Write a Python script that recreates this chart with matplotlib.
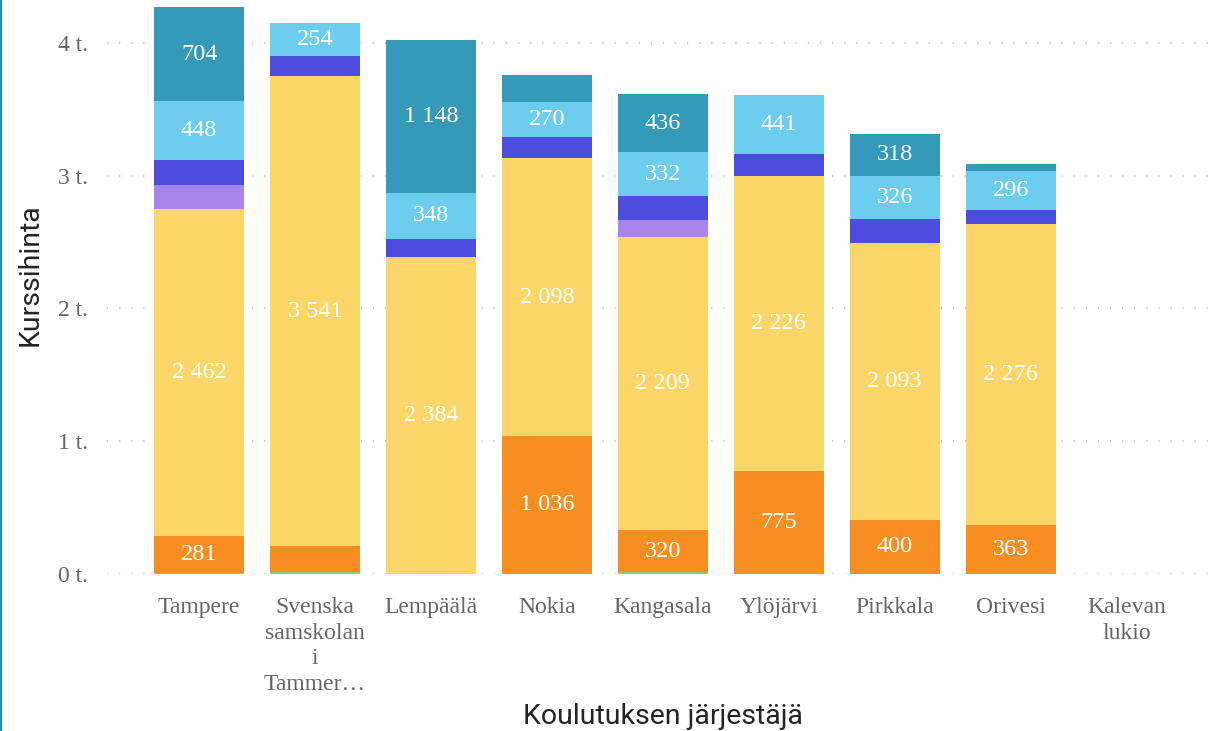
import numpy as np
import matplotlib
matplotlib.use("Agg")
import matplotlib.pyplot as plt
from matplotlib.patches import Rectangle

categories = ["Tampere", "Svenska\nsamskolan\ni\nTammer…", "Lempäälä", "Nokia",
              "Kangasala", "Ylöjärvi", "Pirkkala", "Orivesi", "Kalevan\nlukio"]

green = [5, 8, 0, 0, 8, 0, 0, 0, 0]
orange = [281, 200, 0, 1036, 320, 775, 400, 363, 0]
yellow = [2462, 3541, 2384, 2098, 2209, 2226, 2093, 2276, 0]
purple = [180, 0, 0, 0, 128, 0, 0, 0, 0]
darkblue = [189, 151, 140, 155, 180, 165, 180, 100, 0]
lightblue = [448, 254, 348, 270, 332, 441, 326, 296, 0]
teal = [704, 0, 1148, 200, 436, 0, 318, 55, 0]

yticks = [0, 1000, 2000, 3000, 4000]
ytick_labels = ["0 t.", "1 t.", "2 t.", "3 t.", "4 t."]

series = [green, orange, yellow, purple, darkblue, lightblue, teal]
colors = ["#8ACF6B", "#F68E22", "#FDD66A", "#A885EC", "#4D4EDF", "#6CCDEE", "#3599B8"]

W, H = 1209, 731
fig = plt.figure(figsize=(W / 100, H / 100), dpi=100)
ax = fig.add_axes([107 / W, (H - 573.5) / H, (W - 107) / W, (573.5 - 5) / H])

x = np.arange(len(categories))
bottom = np.zeros(len(categories))
for vals, col in zip(series, colors):
    v = np.array(vals, dtype=float)
    ax.bar(x, v, width=0.777, bottom=bottom, color=col, linewidth=0, zorder=2)
    for xi, (b, h) in enumerate(zip(bottom, v)):
        if h >= 250:
            lbl = f"{int(h):,}".replace(",", " ")
            ax.text(xi, b + h / 2, lbl, ha="center", va="center", color="white",
                    fontsize=17.5, family="Liberation Serif", zorder=3)
    bottom += v

ax.set_xlim(-0.794, 8.71)
ax.set_ylim(0, 4287)
ax.set_yticks(yticks)
ax.set_yticklabels(ytick_labels)
ax.set_xticks(x)
ax.set_xticklabels(categories, linespacing=1.28)
for lab in ax.get_xticklabels() + ax.get_yticklabels():
    lab.set_family("Liberation Serif")
    lab.set_fontsize(17)
    lab.set_color("#666666")
ax.tick_params(axis="both", length=0)
ax.tick_params(axis="y", pad=14)
ax.tick_params(axis="x", pad=17)
for s in ax.spines.values():
    s.set_visible(False)
ax.yaxis.grid(True, color="#c8c8c8", linewidth=1.5, linestyle=(0, (0.6, 5.2)), zorder=0)
ax.set_axisbelow(True)

fig.text(663 / W, 1 - 716 / H, "Koulutuksen järjestäjä", ha="center", va="center",
         fontsize=20.5, family="Roboto", color="#252423")
fig.text(30 / W, 1 - 275 / H, "Kurssihinta", ha="center", va="center", rotation=90,
         fontsize=20.5, family="Roboto", color="#252423")

fig.add_artist(Rectangle((0, 0), 2 / W, 1, transform=fig.transFigure,
                         color="#1A8AAE", linewidth=0))

fig.savefig("out.png", dpi=100)
